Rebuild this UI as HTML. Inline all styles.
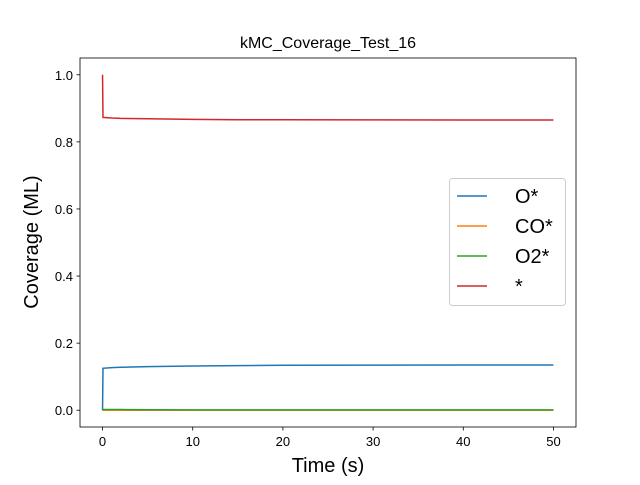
<!DOCTYPE html>
<html><head><meta charset="utf-8"><style>
body{margin:0;background:#fff}
svg{font-family:"Liberation Sans","DejaVu Sans",sans-serif}
</style></head><body>
<svg width="640" height="480" xmlns="http://www.w3.org/2000/svg">
<rect width="640" height="480" fill="#fff"/>
<g id="plot"></g>
<text x="328" y="48" font-size="16" text-anchor="middle">kMC_Coverage_Test_16</text>
<text x="328" y="472" font-size="20" text-anchor="middle">Time (s)</text>
<text transform="translate(38,242) rotate(-90)" font-size="20" text-anchor="middle">Coverage (ML)</text>
</svg>
<script>
const times=[0,0.05,1,2,5,10,15,20,30,40,50];
const oStar=[0,0.125,0.127,0.128,0.130,0.132,0.133,0.134,0.1345,0.135,0.135];
const coStar=[0,0,0,0,0,0,0,0,0,0,0];
const o2Star=[0,0.002,0.002,0.002,0.0015,0.001,0.001,0.001,0.001,0.001,0.001];
const empty=[1,0.873,0.871,0.870,0.869,0.867,0.866,0.866,0.8655,0.865,0.865];
const xTicks=[0,10,20,30,40,50];
const yTicks=[0,0.2,0.4,0.6,0.8,1.0];
const seriesNames=["O*","CO*","O2*","*"];
const colors=["#1f77b4","#ff7f0e","#2ca02c","#d62728"];
const L=80,R=576,T=58,B=427,x0=-2.5,x1=52.5,y0=-0.05,y1=1.05;
const X=v=>L+(v-x0)/(x1-x0)*(R-L);
const Y=v=>B-(v-y0)/(y1-y0)*(B-T);
const NS="http://www.w3.org/2000/svg";
const g=document.getElementById('plot');
function mk(t,a){const e=document.createElementNS(NS,t);for(const k in a)e.setAttribute(k,a[k]);return e;}
const all=[oStar,coStar,o2Star,empty];
all.forEach((s,i)=>{
  const p=mk('polyline',{points:s.map((v,j)=>X(times[j])+','+Y(v)).join(' '),fill:'none',stroke:colors[i],'stroke-width':1.5});
  
  
  g.appendChild(p);
});
const frame=mk('rect',{x:L,y:T,width:R-L,height:B-T,fill:'none',stroke:'#000','stroke-width':0.8});


g.appendChild(frame);
xTicks.forEach(v=>{
  g.appendChild(mk('line',{x1:X(v),x2:X(v),y1:B,y2:B+3.5,stroke:'#000','stroke-width':0.8}));
  const t=mk('text',{x:X(v),y:B+19,'font-size':13,'text-anchor':'middle'});t.textContent=v;
  
  
  g.appendChild(t);
});
yTicks.forEach(v=>{
  g.appendChild(mk('line',{x1:L-3.5,x2:L,y1:Y(v),y2:Y(v),stroke:'#000','stroke-width':0.8}));
  const t=mk('text',{x:L-7,y:Y(v)+5,'font-size':13,'text-anchor':'end'});t.textContent=v.toFixed(1);
  
  
  g.appendChild(t);
});
const lg=mk('g',{'font-size':20});


lg.appendChild(mk('rect',{x:449.5,y:178.5,width:116,height:127,rx:3,fill:'#fff','fill-opacity':0.8,stroke:'#ccc'}));
seriesNames.forEach((n,i)=>{
  const y=196+i*30;
  lg.appendChild(mk('line',{x1:457,x2:487,y1:y,y2:y,stroke:colors[i],'stroke-width':1.5}));
  const t=mk('text',{x:515,y:y+7});t.textContent=n;
  
  
  lg.appendChild(t);
});
g.appendChild(lg);
</script>
</body></html>
